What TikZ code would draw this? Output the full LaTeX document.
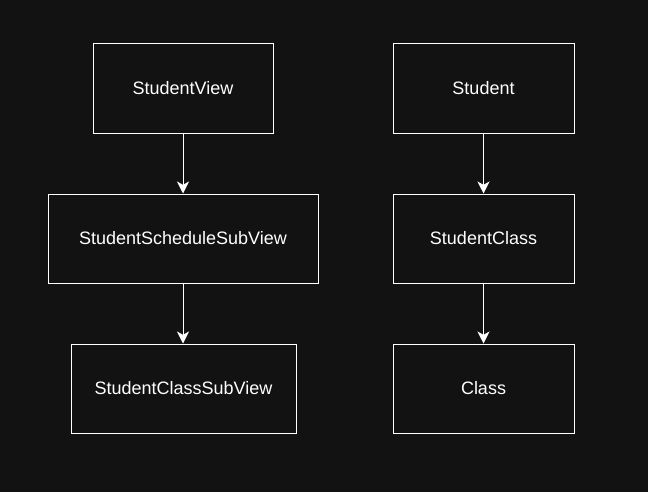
\documentclass[tikz,border=0pt]{standalone}
\usepackage{fontspec}
\setmainfont{Liberation Sans}
\usetikzlibrary{arrows.meta}
\definecolor{bgdark}{HTML}{121212}
\tikzset{
  viewbox/.style={draw=white, line width=0.75pt, minimum height=89*0.75pt, inner sep=0pt,
    text=white, font=\fontsize{13.5}{16}\selectfont},
  link/.style={draw=white, line width=0.75pt, -{Stealth[length=9pt,width=9pt,inset=2.5pt]}}
}
\begin{document}
\begin{tikzpicture}[x=0.75pt,y=-0.75pt]
    % Background
    \fill[bgdark] (0,0) rectangle (648,492);

    % Left column: views
    \node[viewbox, minimum width=180*0.75pt] (studentView) at (183,88.5) {StudentView};
    \node[viewbox, minimum width=270*0.75pt] (scheduleSubView) at (183,238.5) {StudentScheduleSubView};
    \node[viewbox, minimum width=225*0.75pt] (classSubView) at (183.5,388.5) {StudentClassSubView};

    % Right column: models
    \node[viewbox, minimum width=181*0.75pt] (student) at (483.5,88.5) {Student};
    \node[viewbox, minimum width=181*0.75pt] (studentClass) at (483.5,238.5) {StudentClass};
    \node[viewbox, minimum width=181*0.75pt] (class) at (483.5,388.5) {Class};

    % Arrows
    \draw[link] (studentView) -- (scheduleSubView);
    \draw[link] (scheduleSubView) -- (scheduleSubView |- classSubView.north);
    \draw[link] (student) -- (studentClass);
    \draw[link] (studentClass) -- (class);
\end{tikzpicture}
\end{document}
